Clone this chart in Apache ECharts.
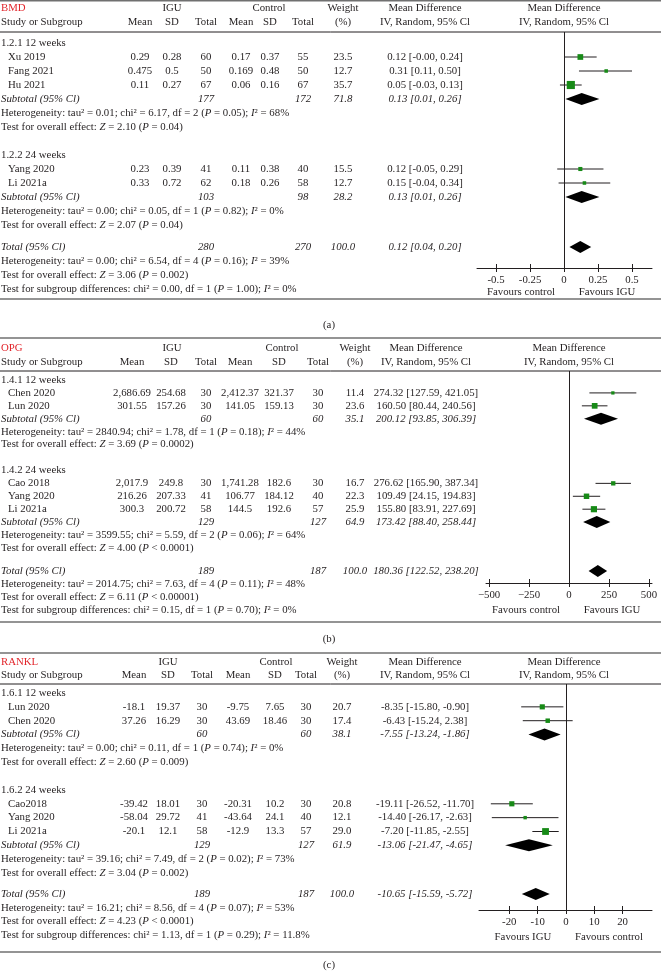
<!DOCTYPE html>
<html>
<head>
<meta charset="utf-8">
<script src="https://cdn.jsdelivr.net/npm/echarts@6/dist/echarts.min.js"></script>
<style>
  html, body { margin: 0; background: #fff; }
  #chart { width: 661px; height: 972px; }
</style>
</head>
<body>
<div id="chart"></div>
<script>
// ---------- (a) BMD ----------
const bmdGroups = ['1.2.1 12 weeks', '1.2.2 24 weeks'];
const bmdStudies = ['Xu 2019', 'Fang 2021', 'Hu 2021', 'Yang 2020', 'Li 2021a'];
const bmdStudyGroup = [0, 0, 0, 1, 1];
const bmdIguMean = ['0.29', '0.475', '0.11', '0.23', '0.33'];
const bmdIguSD = ['0.28', '0.5', '0.27', '0.39', '0.72'];
const bmdIguN = [60, 50, 67, 41, 62];
const bmdCtlMean = ['0.17', '0.169', '0.06', '0.11', '0.18'];
const bmdCtlSD = ['0.37', '0.48', '0.16', '0.38', '0.26'];
const bmdCtlN = [55, 50, 67, 40, 58];
const bmdWeight = [23.5, 12.7, 35.7, 15.5, 12.7];
const bmdMD = [0.12, 0.31, 0.05, 0.12, 0.15];
const bmdLow = [-0, 0.11, -0.03, -0.05, -0.04];
const bmdHigh = [0.24, 0.50, 0.13, 0.29, 0.34];
const bmdSubIguN = [177, 103];
const bmdSubCtlN = [172, 98];
const bmdSubWeight = [71.8, 28.2];
const bmdSubMD = [0.13, 0.13];
const bmdSubLow = [0.01, 0.01];
const bmdSubHigh = [0.26, 0.26];
const bmdSubHet = ['tau² = 0.01; chi² = 6.17, df = 2 (P = 0.05); I² = 68%',
                   'tau² = 0.00; chi² = 0.05, df = 1 (P = 0.82); I² = 0%'];
const bmdSubZ = ['Z = 2.10 (P = 0.04)', 'Z = 2.07 (P = 0.04)'];
const bmdTotalN = [280, 270];
const bmdTotal = [0.12, 0.04, 0.20];
const bmdTotalHet = 'tau² = 0.00; chi² = 6.54, df = 4 (P = 0.16); I² = 39%';
const bmdTotalZ = 'Z = 3.06 (P = 0.002)';
const bmdSubgroupDiff = 'chi² = 0.00, df = 1 (P = 1.00); I² = 0%';
const bmdTicks = [-0.5, -0.25, 0, 0.25, 0.5];
const bmdTickLabels = ['-0.5', '-0.25', '0', '0.25', '0.5'];
const bmdFavours = ['Favours control', 'Favours IGU'];

// ---------- (b) OPG ----------
const opgGroups = ['1.4.1 12 weeks', '1.4.2 24 weeks'];
const opgStudies = ['Chen 2020', 'Lun 2020', 'Cao 2018', 'Yang 2020', 'Li 2021a'];
const opgStudyGroup = [0, 0, 1, 1, 1];
const opgIguMean = ['2,686.69', '301.55', '2,017.9', '216.26', '300.3'];
const opgIguSD = ['254.68', '157.26', '249.8', '207.33', '200.72'];
const opgIguN = [30, 30, 30, 41, 58];
const opgCtlMean = ['2,412.37', '141.05', '1,741.28', '106.77', '144.5'];
const opgCtlSD = ['321.37', '159.13', '182.6', '184.12', '192.6'];
const opgCtlN = [30, 30, 30, 40, 57];
const opgWeight = [11.4, 23.6, 16.7, 22.3, 25.9];
const opgMD = [274.32, 160.50, 276.62, 109.49, 155.80];
const opgLow = [127.59, 80.44, 165.90, 24.15, 83.91];
const opgHigh = [421.05, 240.56, 387.34, 194.83, 227.69];
const opgSubIguN = [60, 129];
const opgSubCtlN = [60, 127];
const opgSubWeight = [35.1, 64.9];
const opgSubMD = [200.12, 173.42];
const opgSubLow = [93.85, 88.40];
const opgSubHigh = [306.39, 258.44];
const opgSubHet = ['tau² = 2840.94; chi² = 1.78, df = 1 (P = 0.18); I² = 44%',
                   'tau² = 3599.55; chi² = 5.59, df = 2 (P = 0.06); I² = 64%'];
const opgSubZ = ['Z = 3.69 (P = 0.0002)', 'Z = 4.00 (P < 0.0001)'];
const opgTotalN = [189, 187];
const opgTotal = [180.36, 122.52, 238.20];
const opgTotalHet = 'tau² = 2014.75; chi² = 7.63, df = 4 (P = 0.11); I² = 48%';
const opgTotalZ = 'Z = 6.11 (P < 0.00001)';
const opgSubgroupDiff = 'chi² = 0.15, df = 1 (P = 0.70); I² = 0%';
const opgTicks = [-500, -250, 0, 250, 500];
const opgTickLabels = ['\u2212500', '\u2212250', '0', '250', '500'];
const opgFavours = ['Favours control', 'Favours IGU'];

// ---------- (c) RANKL ----------
const rankGroups = ['1.6.1 12 weeks', '1.6.2 24 weeks'];
const rankStudies = ['Lun 2020', 'Chen 2020', 'Cao2018', 'Yang 2020', 'Li 2021a'];
const rankStudyGroup = [0, 0, 1, 1, 1];
const rankIguMean = ['-18.1', '37.26', '-39.42', '-58.04', '-20.1'];
const rankIguSD = ['19.37', '16.29', '18.01', '29.72', '12.1'];
const rankIguN = [30, 30, 30, 41, 58];
const rankCtlMean = ['-9.75', '43.69', '-20.31', '-43.64', '-12.9'];
const rankCtlSD = ['7.65', '18.46', '10.2', '24.1', '13.3'];
const rankCtlN = [30, 30, 30, 40, 57];
const rankWeight = [20.7, 17.4, 20.8, 12.1, 29.0];
const rankMD = [-8.35, -6.43, -19.11, -14.40, -7.20];
const rankLow = [-15.80, -15.24, -26.52, -26.17, -11.85];
const rankHigh = [-0.90, 2.38, -11.70, -2.63, -2.55];
const rankSubIguN = [60, 129];
const rankSubCtlN = [60, 127];
const rankSubWeight = [38.1, 61.9];
const rankSubMD = [-7.55, -13.06];
const rankSubLow = [-13.24, -21.47];
const rankSubHigh = [-1.86, -4.65];
const rankSubHet = ['tau² = 0.00; chi² = 0.11, df = 1 (P = 0.74); I² = 0%',
                    'tau² = 39.16; chi² = 7.49, df = 2 (P = 0.02); I² = 73%'];
const rankSubZ = ['Z = 2.60 (P = 0.009)', 'Z = 3.04 (P = 0.002)'];
const rankTotalN = [189, 187];
const rankTotal = [-10.65, -15.59, -5.72];
const rankTotalHet = 'tau² = 16.21; chi² = 8.56, df = 4 (P = 0.07); I² = 53%';
const rankTotalZ = 'Z = 4.23 (P < 0.0001)';
const rankSubgroupDiff = 'chi² = 1.13, df = 1 (P = 0.29); I² = 11.8%';
const rankTicks = [-20, -10, 0, 10, 20];
const rankTickLabels = ['-20', '-10', '0', '10', '20'];
const rankFavours = ['Favours IGU', 'Favours control'];

// ---------- styling ----------
const FONT = '"Liberation Serif", "Times New Roman", serif';
const FS = 10.8;
const INK = '#231f20';
const RED = '#e2252b';
const GREEN = '#178a17';
const RULE = '#707070';

const panels = [
  {
    title: 'BMD', caption: '(a)',
    groups: bmdGroups, studies: bmdStudies, studyGroup: bmdStudyGroup,
    iguMean: bmdIguMean, iguSD: bmdIguSD, iguN: bmdIguN,
    ctlMean: bmdCtlMean, ctlSD: bmdCtlSD, ctlN: bmdCtlN,
    weight: bmdWeight, md: bmdMD, low: bmdLow, high: bmdHigh,
    subIguN: bmdSubIguN, subCtlN: bmdSubCtlN, subWeight: bmdSubWeight,
    subMD: bmdSubMD, subLow: bmdSubLow, subHigh: bmdSubHigh, subHet: bmdSubHet, subZ: bmdSubZ,
    totalN: bmdTotalN, total: bmdTotal, totalHet: bmdTotalHet, totalZ: bmdTotalZ, subgroupDiff: bmdSubgroupDiff,
    ticks: bmdTicks, tickLabels: bmdTickLabels, favours: bmdFavours,
    L: { ruleTop: 0.8, head1: 8, head2: 22, headLine: 32, rowTop: 43, step: 14, totalRow: 14.57,
         axisY: 268, favY: 292, ruleBottom: 299, captionY: 325,
         plotLeft: 477, plotWidth: 175, xMin: -0.64, xMax: 0.647,
         col: { mean: 140, sd: 172, n: 206, meanC: 241, sdC: 270, nC: 303, w: 343, md: 425, igu: 172, ctl: 269, plot: 564 } }
  },
  {
    title: 'OPG', caption: '(b)',
    groups: opgGroups, studies: opgStudies, studyGroup: opgStudyGroup,
    iguMean: opgIguMean, iguSD: opgIguSD, iguN: opgIguN,
    ctlMean: opgCtlMean, ctlSD: opgCtlSD, ctlN: opgCtlN,
    weight: opgWeight, md: opgMD, low: opgLow, high: opgHigh,
    subIguN: opgSubIguN, subCtlN: opgSubCtlN, subWeight: opgSubWeight,
    subMD: opgSubMD, subLow: opgSubLow, subHigh: opgSubHigh, subHet: opgSubHet, subZ: opgSubZ,
    totalN: opgTotalN, total: opgTotal, totalHet: opgTotalHet, totalZ: opgTotalZ, subgroupDiff: opgSubgroupDiff,
    ticks: opgTicks, tickLabels: opgTickLabels, favours: opgFavours,
    L: { ruleTop: 338, head1: 348, head2: 362, headLine: 371, rowTop: 380, step: 12.92, totalRow: 14.78,
         axisY: 583, favY: 610, ruleBottom: 622, captionY: 639,
         plotLeft: 486, plotWidth: 166, xMin: -519, xMax: 519,
         col: { mean: 132, sd: 171, n: 206, meanC: 240, sdC: 279, nC: 318, w: 355, md: 426, igu: 172, ctl: 282, plot: 569 } }
  },
  {
    title: 'RANKL', caption: '(c)',
    groups: rankGroups, studies: rankStudies, studyGroup: rankStudyGroup,
    iguMean: rankIguMean, iguSD: rankIguSD, iguN: rankIguN,
    ctlMean: rankCtlMean, ctlSD: rankCtlSD, ctlN: rankCtlN,
    weight: rankWeight, md: rankMD, low: rankLow, high: rankHigh,
    subIguN: rankSubIguN, subCtlN: rankSubCtlN, subWeight: rankSubWeight,
    subMD: rankSubMD, subLow: rankSubLow, subHigh: rankSubHigh, subHet: rankSubHet, subZ: rankSubZ,
    totalN: rankTotalN, total: rankTotal, totalHet: rankTotalHet, totalZ: rankTotalZ, subgroupDiff: rankSubgroupDiff,
    ticks: rankTicks, tickLabels: rankTickLabels, favours: rankFavours,
    L: { ruleTop: 653, head1: 662, head2: 675, headLine: 684, rowTop: 693, step: 13.85, totalRow: 14.51,
         axisY: 910, favY: 937, ruleBottom: 952, captionY: 965,
         plotLeft: 479, plotWidth: 173, xMin: -30.7, xMax: 30.4,
         col: { mean: 134, sd: 168, n: 202, meanC: 238, sdC: 275, nC: 306, w: 342, md: 425, igu: 168, ctl: 276, plot: 564 } }
  }
];

// ---------- helpers ----------
const fmt2 = v => (Object.is(v, -0) ? '-' : '') + v.toFixed(2);
const ciText = (m, lo, hi) => fmt2(m) + ' [' + fmt2(lo) + ', ' + fmt2(hi) + ']';
const ital = s => s.replace(/\b([PZI])(?=[ \u00b2])/g, '{i|$1}');
const font = (italic) => (italic ? 'italic ' : '') + FS + 'px ' + FONT;

function txt(x, y, text, opt) {
  opt = opt || {};
  const align = opt.align || 'center';
  return {
    type: 'text', x: x, y: y, silent: true, z: 10,
    style: {
      text: text, font: font(opt.italic), fill: opt.color || INK,
      align: align, verticalAlign: 'middle', textAlign: align, textVerticalAlign: 'middle',
      rich: { i: { font: font(true), fill: opt.color || INK } }
    }
  };
}
function hline(y, color, width) {
  return { type: 'line', silent: true, z: 5, shape: { x1: 0, y1: y, x2: 661, y2: y },
           style: { stroke: color, lineWidth: width } };
}

function renderStudy(params, api) {
  const c = api.coord([api.value(0), api.value(3)]);
  const l = api.coord([api.value(1), api.value(3)]);
  const h = api.coord([api.value(2), api.value(3)]);
  const s = 1 + api.value(4) * 0.2;
  return {
    type: 'group',
    children: [
      { type: 'line', shape: { x1: l[0], y1: c[1], x2: h[0], y2: c[1] }, style: { stroke: INK, lineWidth: 1 } },
      { type: 'rect', shape: { x: c[0] - s / 2, y: c[1] - s / 2, width: s, height: s }, style: { fill: GREEN } }
    ]
  };
}
function renderDiamond(params, api) {
  const c = api.coord([api.value(0), api.value(3)]);
  const l = api.coord([api.value(1), api.value(3)]);
  const h = api.coord([api.value(2), api.value(3)]);
  const hh = 6;
  return {
    type: 'polygon',
    shape: { points: [[l[0], c[1]], [c[0], c[1] - hh], [h[0], c[1]], [c[0], c[1] + hh]] },
    style: { fill: '#000' }
  };
}

const grids = [], xAxes = [], yAxes = [], series = [], graphics = [];

panels.forEach((p, gi) => {
  const L = p.L, C = L.col;
  const rowY = r => L.rowTop + r * L.step;

  // rules and headers
  graphics.push(hline(L.ruleTop, RULE, 1.6));
  graphics.push(hline(L.headLine, INK, 1));
  graphics.push(hline(L.ruleBottom, RULE, 1.6));
  graphics.push(txt(1, L.head1, p.title, { align: 'left', color: RED }));
  graphics.push(txt(C.igu, L.head1, 'IGU'));
  graphics.push(txt(C.ctl, L.head1, 'Control'));
  graphics.push(txt(C.w, L.head1, 'Weight'));
  graphics.push(txt(C.md, L.head1, 'Mean Difference'));
  graphics.push(txt(C.plot, L.head1, 'Mean Difference'));
  graphics.push(txt(1, L.head2, 'Study or Subgroup', { align: 'left' }));
  graphics.push(txt(C.mean, L.head2, 'Mean'));
  graphics.push(txt(C.sd, L.head2, 'SD'));
  graphics.push(txt(C.n, L.head2, 'Total'));
  graphics.push(txt(C.meanC, L.head2, 'Mean'));
  graphics.push(txt(C.sdC, L.head2, 'SD'));
  graphics.push(txt(C.nC, L.head2, 'Total'));
  graphics.push(txt(C.w, L.head2, '(%)'));
  graphics.push(txt(C.md, L.head2, 'IV, Random, 95% Cl'));
  graphics.push(txt(C.plot, L.head2, 'IV, Random, 95% Cl'));
  graphics.push(txt(329, L.captionY, p.caption));

  const studyData = [], diamondData = [];
  let start = 0;
  p.groups.forEach((gName, g) => {
    const idx = p.studies.map((s, i) => i).filter(i => p.studyGroup[i] === g);
    graphics.push(txt(1, rowY(start), gName, { align: 'left' }));
    idx.forEach((i, k) => {
      const r = start + 1 + k, y = rowY(r);
      graphics.push(txt(8, y, p.studies[i], { align: 'left' }));
      graphics.push(txt(C.mean, y, p.iguMean[i]));
      graphics.push(txt(C.sd, y, p.iguSD[i]));
      graphics.push(txt(C.n, y, String(p.iguN[i])));
      graphics.push(txt(C.meanC, y, p.ctlMean[i]));
      graphics.push(txt(C.sdC, y, p.ctlSD[i]));
      graphics.push(txt(C.nC, y, String(p.ctlN[i])));
      graphics.push(txt(C.w, y, p.weight[i].toFixed(1)));
      graphics.push(txt(C.md, y, ciText(p.md[i], p.low[i], p.high[i])));
      studyData.push([p.md[i], p.low[i], p.high[i], r, p.weight[i]]);
    });
    const rs = start + 1 + idx.length, ys = rowY(rs);
    graphics.push(txt(1, ys, 'Subtotal (95% Cl)', { align: 'left', italic: true }));
    graphics.push(txt(C.n, ys, String(p.subIguN[g]), { italic: true }));
    graphics.push(txt(C.nC, ys, String(p.subCtlN[g]), { italic: true }));
    graphics.push(txt(C.w, ys, p.subWeight[g].toFixed(1), { italic: true }));
    graphics.push(txt(C.md, ys, ciText(p.subMD[g], p.subLow[g], p.subHigh[g]), { italic: true }));
    diamondData.push([p.subMD[g], p.subLow[g], p.subHigh[g], rs]);
    graphics.push(txt(1, rowY(rs + 1), 'Heterogeneity: ' + ital(p.subHet[g]), { align: 'left' }));
    graphics.push(txt(1, rowY(rs + 2), 'Test for overall effect: ' + ital(p.subZ[g]), { align: 'left' }));
    start = rs + 4;
  });

  const rt = L.totalRow, yt = rowY(rt);
  graphics.push(txt(1, yt, 'Total (95% Cl)', { align: 'left', italic: true }));
  graphics.push(txt(C.n, yt, String(p.totalN[0]), { italic: true }));
  graphics.push(txt(C.nC, yt, String(p.totalN[1]), { italic: true }));
  graphics.push(txt(C.w, yt, (100).toFixed(1), { italic: true }));
  graphics.push(txt(C.md, yt, ciText(p.total[0], p.total[1], p.total[2]), { italic: true }));
  diamondData.push([p.total[0], p.total[1], p.total[2], rt]);
  graphics.push(txt(1, rowY(rt + 1), 'Heterogeneity: ' + ital(p.totalHet), { align: 'left' }));
  graphics.push(txt(1, rowY(rt + 2), 'Test for overall effect: ' + ital(p.totalZ), { align: 'left' }));
  graphics.push(txt(1, rowY(rt + 3), 'Test for subgroup differences: ' + ital(p.subgroupDiff), { align: 'left' }));

  // favours labels under the axis
  const zeroX = L.plotLeft + L.plotWidth * (0 - L.xMin) / (L.xMax - L.xMin);
  graphics.push(txt(zeroX - 43, L.favY, p.favours[0]));
  graphics.push(txt(zeroX + 43, L.favY, p.favours[1]));

  // forest plot grid
  grids.push({ left: L.plotLeft, width: L.plotWidth, top: L.headLine, height: L.axisY - L.headLine });
  const axisBase = {
    gridIndex: gi, type: 'value', position: 'bottom', min: L.xMin, max: L.xMax,
    splitLine: { show: false }
  };
  xAxes.push(Object.assign({}, axisBase, {
    axisLine: { show: true, onZero: false, lineStyle: { color: INK, width: 1 } },
    axisTick: { show: true, customValues: p.ticks, length: 4, inside: false, lineStyle: { color: INK } },
    axisLabel: { show: true, customValues: p.ticks, margin: 7, color: INK, fontFamily: FONT, fontSize: FS,
                 formatter: v => p.tickLabels[p.ticks.indexOf(v)] }
  }));
  xAxes.push(Object.assign({}, axisBase, {
    axisLine: { show: false, onZero: false },
    axisTick: { show: true, customValues: p.ticks, length: 4, inside: true, lineStyle: { color: INK } },
    axisLabel: { show: false }
  }));
  yAxes.push({
    gridIndex: gi, type: 'value', inverse: true, show: false,
    min: (L.headLine - L.rowTop) / L.step, max: (L.axisY - L.rowTop) / L.step
  });
  series.push({
    type: 'custom', xAxisIndex: gi * 2, yAxisIndex: gi, renderItem: renderStudy, data: studyData, z: 3,
    markLine: { silent: true, symbol: 'none', label: { show: false },
                lineStyle: { color: INK, width: 1, type: 'solid' }, data: [{ xAxis: 0 }] }
  });
  series.push({ type: 'custom', xAxisIndex: gi * 2, yAxisIndex: gi, renderItem: renderDiamond, data: diamondData, z: 3 });
});

const chart = echarts.init(document.getElementById('chart'));
chart.setOption({
  animation: false,
  backgroundColor: '#fff',
  textStyle: { fontFamily: FONT },
  grid: grids,
  xAxis: xAxes,
  yAxis: yAxes,
  series: series,
  graphic: graphics
});
window.addEventListener('resize', () => chart.resize());
</script>
</body>
</html>
